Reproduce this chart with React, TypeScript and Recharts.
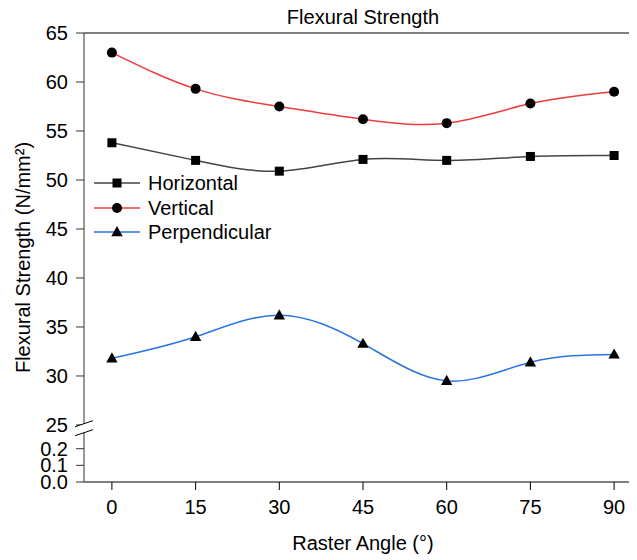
import React from 'react';
import { LineChart, Line, XAxis, YAxis, ReferenceLine, ReferenceDot, Legend, Label } from 'recharts';

// ---- data ----
const angles = [0, 15, 30, 45, 60, 75, 90];
const horizontal = [53.8, 52.0, 50.9, 52.1, 52.0, 52.4, 52.5];
const vertical = [63.0, 59.3, 57.5, 56.2, 55.8, 57.8, 59.0];
const perpendicular = [31.8, 34.0, 36.2, 33.3, 29.5, 31.4, 32.2];

const xTicks = [0, 15, 30, 45, 60, 75, 90];
const upperTicks = [25, 30, 35, 40, 45, 50, 55, 60, 65];
const lowerTicks = [0.0, 0.1, 0.2];
const lowerTickLabels = ['0.0', '0.1', '0.2'];

const seriesNames = ['Horizontal', 'Vertical', 'Perpendicular'];
const seriesKeys = ['horizontal', 'vertical', 'perpendicular'];
const seriesColors = ['#444444', '#ee3b3b', '#2a74e0'];
const seriesMarkers = ['square', 'circle', 'triangle'];

// ---- broken axis mapping ----
const X_DOMAIN: [number, number] = [-5, 95];
const UPPER_MAX = 65;
const LOWER_BASE = 19.18; // axis position of lower segment's 0.0
const LOWER_SCALE = 17; // axis units per unit of the lower segment
const BREAK_AT = 24.67;
const toAxis = (v: number) => LOWER_BASE + v * LOWER_SCALE;

const FONT = '"Liberation Sans", Arial, sans-serif';

const data = angles.map((a, i) => ({
  angle: a,
  horizontal: horizontal[i],
  vertical: vertical[i],
  perpendicular: perpendicular[i],
}));

const yTicks = [...lowerTicks.map(toAxis), ...upperTicks];
const yLabel = (v: number) => {
  const li = lowerTicks.findIndex((t) => Math.abs(toAxis(t) - v) < 1e-6);
  if (li >= 0) return lowerTickLabels[li];
  return String(v);
};

const markerShape = (kind: string, cx: number, cy: number, key?: string) => {
  if (kind === 'square')
    return <rect key={key} x={cx - 4.5} y={cy - 4.5} width={9} height={9} fill="#000" />;
  if (kind === 'circle') return <circle key={key} cx={cx} cy={cy} r={5} fill="#000" />;
  return (
    <polygon
      key={key}
      points={`${cx},${cy - 6} ${cx - 5.7},${cy + 4.2} ${cx + 5.7},${cy + 4.2}`}
      fill="#000"
    />
  );
};

const makeDot = (kind: string) => (p: any) => {
  if (p.cx == null || p.cy == null) return <g key={`${kind}-${p.index}`} />;
  return markerShape(kind, p.cx, p.cy, `${kind}-${p.index}`);
};

const BreakMark = (p: any) => {
  const { cx, cy } = p;
  if (cx == null || cy == null) return <g />;
  return (
    <g>
      <polygon
        points={`${cx - 9},${cy - 1.5} ${cx + 9},${cy - 7.5} ${cx + 9},${cy + 1.5} ${cx - 9},${cy + 7.5}`}
        fill="#fff"
      />
      <line x1={cx - 9} y1={cy - 1.5} x2={cx + 9} y2={cy - 7.5} stroke="#000" strokeWidth={1} />
      <line x1={cx - 9} y1={cy + 7.5} x2={cx + 9} y2={cy + 1.5} stroke="#000" strokeWidth={1} />
    </g>
  );
};

const LegendContent = () => (
  <div style={{ fontFamily: FONT, fontSize: 20, color: '#000' }}>
    {seriesNames.map((name, i) => (
      <div key={name} style={{ display: 'flex', alignItems: 'center', height: 24.5 }}>
        <svg width={46} height={20} style={{ display: 'block' }}>
          <line x1={0} y1={10} x2={46} y2={10} stroke={seriesColors[i]} strokeWidth={1.5} />
          {markerShape(seriesMarkers[i], 23, 10)}
        </svg>
        <span style={{ marginLeft: 8, lineHeight: '20px', whiteSpace: 'nowrap' }}>{name}</span>
      </div>
    ))}
  </div>
);

export default function App() {
  return (
    <div style={{ width: 629, height: 552, overflow: 'hidden', position: 'relative' }}>
      <LineChart
        width={660}
        height={552}
        data={data}
        margin={{ top: 25, right: 26, bottom: 0, left: 0 }}
        style={{ fontFamily: FONT }}
      >
        <XAxis
          dataKey="angle"
          type="number"
          domain={X_DOMAIN}
          ticks={xTicks}
          interval={0}
          height={78}
          tickSize={8}
          tickMargin={10}
          stroke="#000"
          tick={{ fill: '#000', fontSize: 20, fontFamily: FONT }}
          allowDataOverflow
        >
          <Label
            value="Raster Angle (°)"
            position="insideBottom"
            offset={10}
            style={{ fontSize: 20, fontFamily: FONT, fill: '#000' }}
          />
        </XAxis>
        <YAxis
          type="number"
          domain={[toAxis(0), UPPER_MAX]}
          ticks={yTicks}
          interval={0}
          width={76}
          tickSize={8}
          tickMargin={8}
          stroke="#333"
          tickFormatter={yLabel}
          tick={{ fill: '#000', fontSize: 20, fontFamily: FONT }}
          allowDataOverflow
        >
          <Label
            value="Flexural Strength (N/mm²)"
            angle={-90}
            position="insideLeft"
            offset={15}
            style={{ textAnchor: 'middle', fontSize: 20, fontFamily: FONT, fill: '#000' }}
          />
        </YAxis>
        <ReferenceLine y={UPPER_MAX} stroke="#000" strokeWidth={1}>
          <Label
            value="Flexural Strength"
            position="top"
            offset={9}
            style={{ fontSize: 20, fontFamily: FONT, fill: '#000' }}
          />
        </ReferenceLine>
        {seriesKeys.map((k, i) => (
          <Line
            key={k}
            dataKey={k}
            name={seriesNames[i]}
            type="natural"
            stroke={seriesColors[i]}
            strokeWidth={1.5}
            dot={makeDot(seriesMarkers[i])}
            activeDot={false}
            isAnimationActive={false}
          />
        ))}
        <ReferenceDot x={X_DOMAIN[0]} y={BREAK_AT} ifOverflow="visible" shape={BreakMark} />
        <ReferenceDot x={X_DOMAIN[1]} y={BREAK_AT} ifOverflow="visible" shape={BreakMark} />
        <Legend
          layout="vertical"
          align="center"
          verticalAlign="middle"
          content={LegendContent}
          wrapperStyle={{ left: 86, top: 163, width: 220 }}
        />
      </LineChart>
    </div>
  );
}
